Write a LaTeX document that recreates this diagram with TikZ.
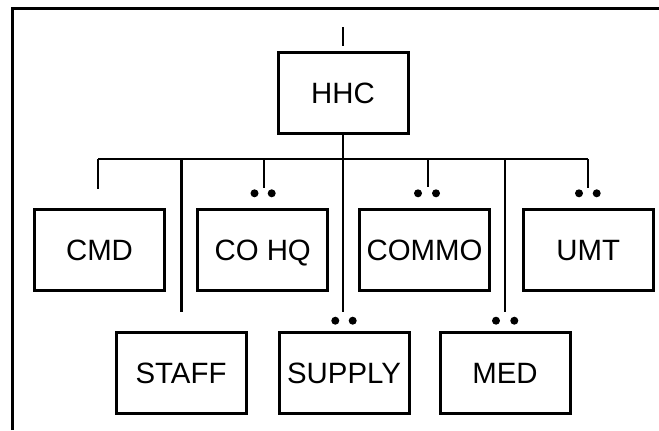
\documentclass[tikz,border=0pt]{standalone}
\usepackage{fontspec}
\setmainfont{Liberation Sans}
\begin{document}
\begin{tikzpicture}[x=1bp,y=-1bp,
  unit/.style={draw, line width=3bp, minimum width=130bp, minimum height=81bp, inner sep=0pt, text height=21bp, text depth=0bp, font=\fontsize{29.5}{30}\selectfont},
  wire/.style={line width=2.7bp},
  frameline/.style={line width=3.2bp, line join=miter},
  dotmark/.style={circle, fill, inner sep=0pt, minimum size=8bp}]
\useasboundingbox (0,0) rectangle (659,430);
% frame
\coordinate (fbl) at (12.5,430);
\coordinate (ftl) at (12.5,8.5);
\coordinate (ftr) at (659,8.5);
\draw[frameline] (fbl) -- (ftl) -- (ftr);

% units
\node[unit] (hhc)    at (343,93)    {HHC};
\node[unit] (cmd)    at (99.5,249.7) {CMD};
\node[unit] (cohq)   at (262.7,249.7) {CO HQ};
\node[unit] (commo)  at (424.5,249.7) {COMMO};
\node[unit] (umt)    at (588.3,249.7) {UMT};
\node[unit] (staff)  at (181,372.8) {STAFF};
\node[unit] (supply) at (344,373)   {SUPPLY};
\node[unit] (med)    at (505,373)   {MED};

% top stub
\coordinate (stubtop) at (343,27);
\coordinate (stubbot) at (343,46);
\draw[wire] (stubtop) -- (stubbot);

% bus
\coordinate (hub) at (343,159);
\coordinate (busl) at (98,159);
\coordinate (busr) at (588,159);
\draw[wire] (hhc.south) -- (hub);
\draw[wire, line join=miter] (busl) -- (busr);

% branch points on bus
\coordinate (b-staff) at (181.5,159);
\coordinate (b-cohq) at (264,159);
\coordinate (b-commo) at (428,159);
\coordinate (b-med) at (505,159);

% drop ends
\coordinate (e-cmd) at (98,189);
\coordinate (e-staff) at (181.5,312);
\coordinate (e-cohq) at (264,188);
\coordinate (e-supply) at (343,312);
\coordinate (e-commo) at (428,187);
\coordinate (e-med) at (505,312);
\coordinate (e-umt) at (588,188);

\draw[wire] (busl) -- (e-cmd);
\draw[wire] (b-staff) -- (e-staff);
\draw[wire] (b-cohq) -- (e-cohq);
\draw[wire] (hub) -- (e-supply);
\draw[wire] (b-commo) -- (e-commo);
\draw[wire] (b-med) -- (e-med);
\draw[wire] (busr) -- (e-umt);

% dots
\node[dotmark] (d-cohq-l) at (254.5,193.3) {};
\node[dotmark] (d-cohq-r) at (271.7,193.3) {};
\node[dotmark] (d-commo-l) at (418,193.3) {};
\node[dotmark] (d-commo-r) at (436,193.3) {};
\node[dotmark] (d-umt-l) at (579,193.3) {};
\node[dotmark] (d-umt-r) at (596.7,193.3) {};
\node[dotmark] (d-supply-l) at (335.3,320.7) {};
\node[dotmark] (d-supply-r) at (352.7,320.7) {};
\node[dotmark] (d-med-l) at (496,320.7) {};
\node[dotmark] (d-med-r) at (514.3,320.7) {};
\end{tikzpicture}
\end{document}
